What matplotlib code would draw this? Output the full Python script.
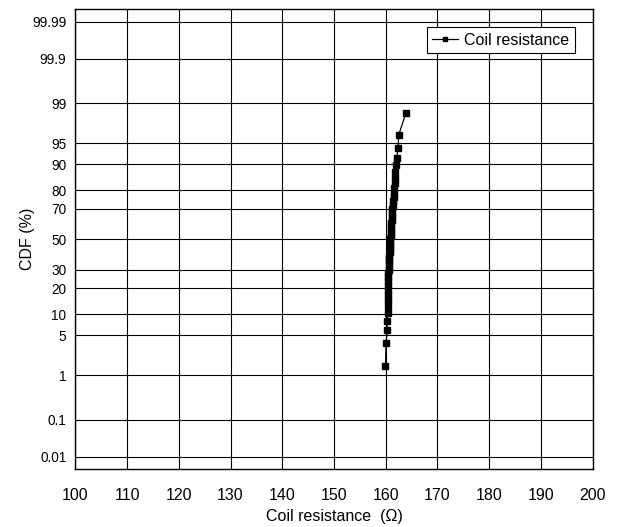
import numpy as np
import matplotlib
matplotlib.use('Agg')
import matplotlib.pyplot as plt
from statistics import NormalDist

# ---- data ----
resistance = [159.95, 160.05, 160.30, 160.30, 160.35, 160.35, 160.35, 160.40, 160.40,
              160.45, 160.45, 160.50, 160.50, 160.55, 160.60, 160.60, 160.65, 160.70,
              160.75, 160.80, 160.80, 160.85, 160.90, 160.95, 161.00, 161.00, 161.05,
              161.10, 161.15, 161.20, 161.25, 161.30, 161.35, 161.40, 161.50, 161.55,
              161.60, 161.70, 161.80, 161.85, 161.95, 162.10, 162.40, 162.50, 163.90]
cdf_pct = [1.54, 3.74, 5.95, 8.15, 10.35, 12.56, 14.76, 16.96, 19.16, 21.37, 23.57,
           25.77, 27.97, 30.18, 32.38, 34.58, 36.78, 38.99, 41.19, 43.39, 45.59, 47.80,
           50.00, 52.20, 54.41, 56.61, 58.81, 61.01, 63.22, 65.42, 67.62, 69.82, 72.03,
           74.23, 76.43, 78.63, 80.84, 83.04, 85.24, 87.44, 89.65, 91.85, 94.05, 96.26,
           98.46]
series_label = 'Coil resistance'
x_ticks = [100, 110, 120, 130, 140, 150, 160, 170, 180, 190, 200]
y_ticks = [0.01, 0.1, 1, 5, 10, 20, 30, 50, 70, 80, 90, 95, 99, 99.9, 99.99]
y_tick_labels = ['0.01', '0.1', '1', '5', '10', '20', '30', '50', '70', '80', '90',
                 '95', '99', '99.9', '99.99']

plt.rcParams['font.family'] = ['Liberation Sans', 'DejaVu Sans']

_nd = NormalDist()
_inv = np.vectorize(_nd.inv_cdf, otypes=[float])
_cdf = np.vectorize(_nd.cdf, otypes=[float])


def probit_fwd(p):
    q = np.asarray(p, dtype=float) / 100.0
    q = np.where(np.isfinite(q), q, 0.5)
    q = np.clip(q, 1e-15, 1 - 1e-15)
    return _inv(q)


def probit_inv(z):
    z = np.asarray(z, dtype=float)
    z = np.where(np.isfinite(z), z, 0.0)
    return 100.0 * _cdf(z)


fig = plt.figure(figsize=(6.21, 5.27), dpi=100)
ax = fig.add_axes([0.1213, 0.110, 0.8331, 0.872])
ax.set_yscale('function', functions=(probit_fwd, probit_inv))

ax.plot(resistance, cdf_pct, color='black', lw=0.9, marker='s', markersize=4,
        markerfacecolor='black', markeredgecolor='black', label=series_label)

ax.set_xlim(100, 200)
zlim = 3.93
ax.set_ylim(100 * _nd.cdf(-zlim), 100 * _nd.cdf(zlim))
ax.set_xticks(x_ticks)
ax.set_xticklabels([str(t) for t in x_ticks])
ax.set_yticks(y_ticks)
ax.set_yticklabels(y_tick_labels)
ax.minorticks_off()
ax.tick_params(axis='x', length=0, pad=14, labelsize=11.5)
ax.tick_params(axis='y', length=0, pad=6.5, labelsize=9.8)

ax.grid(True, color='black', lw=0.8)
ax.set_axisbelow(True)
for s in ax.spines.values():
    s.set_linewidth(1.0)
    s.set_color('black')

ax.set_xlabel('Coil resistance  (Ω)', fontsize=11.5, labelpad=4)
ax.set_ylabel('CDF (%)', fontsize=11.5, labelpad=-2)

leg = ax.legend(loc='upper right', bbox_to_anchor=(0.9657, 0.962), fontsize=11.5,
                frameon=True, fancybox=False, edgecolor='black', framealpha=1,
                handlelength=1.6, borderpad=0.35, handletextpad=0.4,
                borderaxespad=0, markerscale=0.8)
leg.get_frame().set_linewidth(0.8)

fig.savefig('out.png', dpi=100)
